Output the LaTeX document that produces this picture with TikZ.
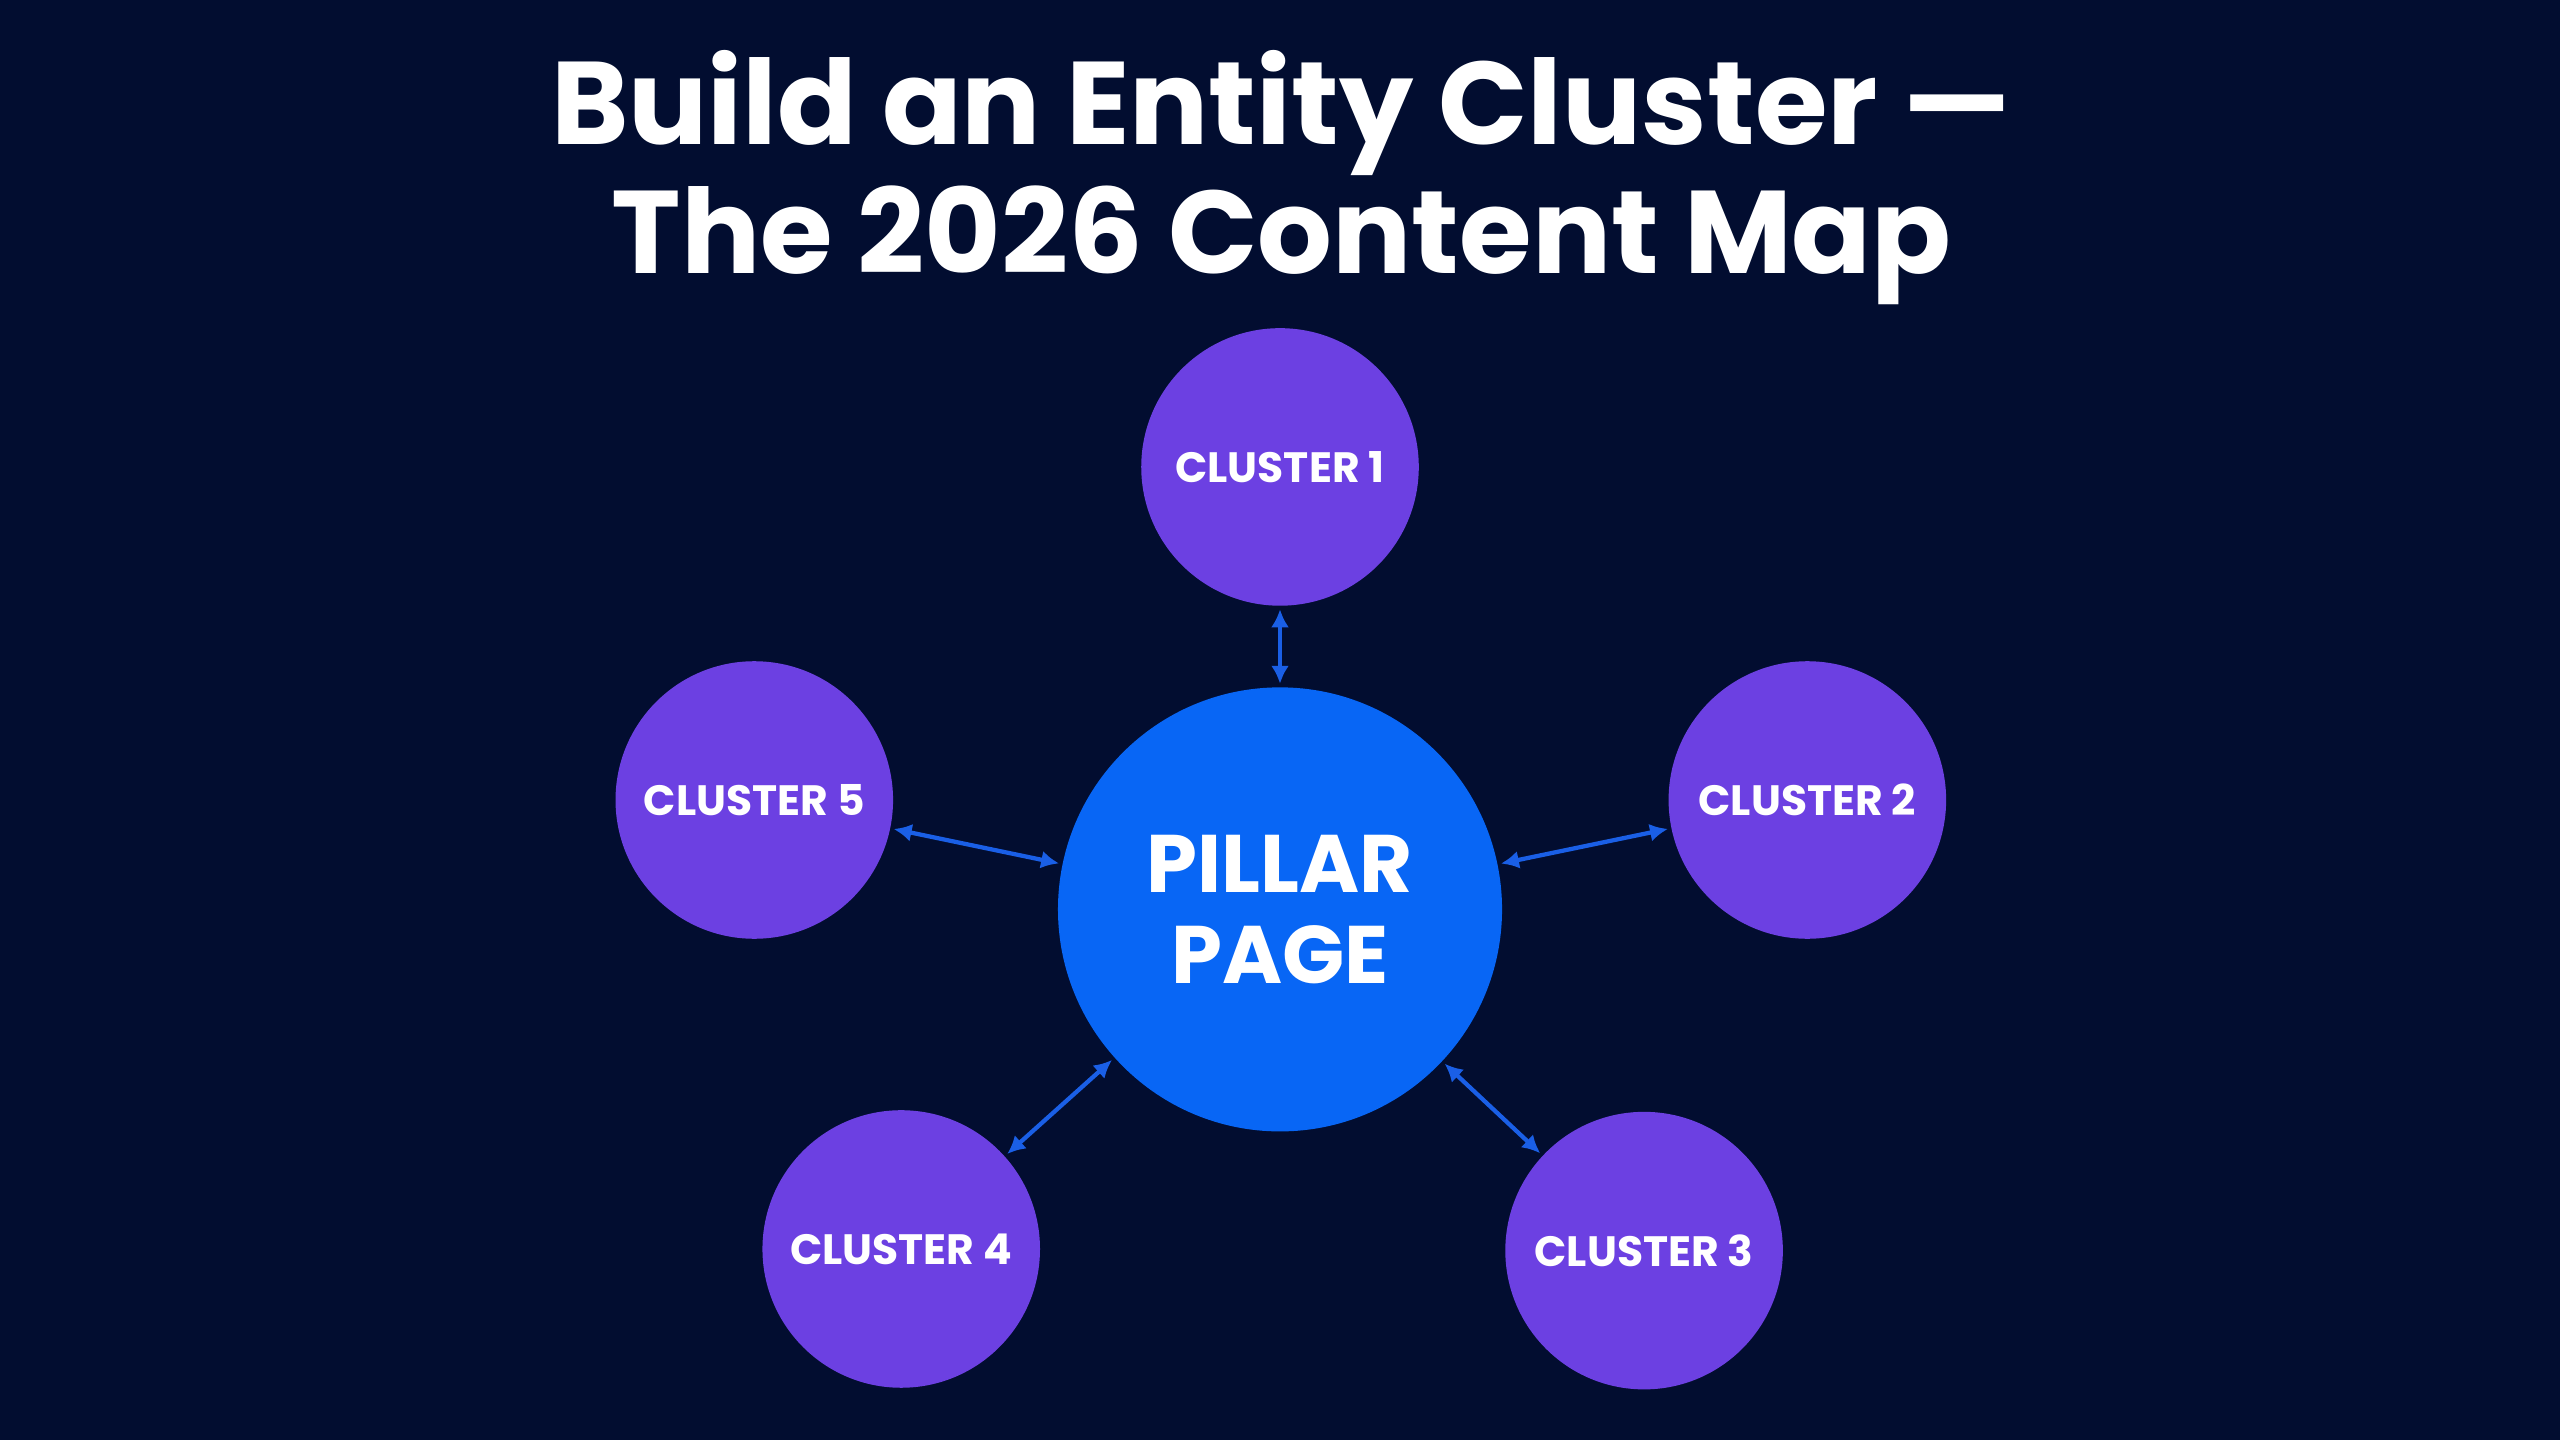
\documentclass[tikz,border=0pt]{standalone}
\usepackage{fontspec}
\setmainfont{Poppins}
\usetikzlibrary{arrows.meta}
\definecolor{bgnavy}{HTML}{020D30}
\definecolor{pillarblue}{HTML}{0866F5}
\definecolor{clusterviolet}{HTML}{6C40E2}
\definecolor{linkblue}{HTML}{1A5FE6}
\tikzset{
  pillar/.style={circle, fill=pillarblue, minimum size=272pt, inner sep=0pt,
    text=white, align=center, font=\fontsize{50}{56}\selectfont\bfseries},
  cluster/.style={circle, fill=clusterviolet, minimum size=170pt, inner sep=0pt,
    text=white, font=\fontsize{26}{30}\selectfont\bfseries},
  link/.style={linkblue, line width=2.6pt, {Latex[length=11pt,width=11pt]}-{Latex[length=11pt,width=11pt]},
    shorten <=2pt, shorten >=2pt}
}
\begin{document}
\begin{tikzpicture}[x=1pt,y=-1pt]
\fill[bgnavy] (0,0) rectangle (1568,882);
\useasboundingbox (0,0) rectangle (1568,882);

% The title
\node[text=white, align=center, font=\fontsize{72}{79}\selectfont\bfseries] (title) at (785,109)
  {Build an Entity Cluster —\\The 2026 Content Map};

% The hub and its clusters
\node[pillar] (pillar) at (784,557) {PILLAR\\PAGE};
\node[cluster] (c1) at (784,286) {CLUSTER 1};
\node[cluster] (c2) at (1107,490) {CLUSTER 2};
\node[cluster] (c3) at (1007,766) {CLUSTER 3};
\node[cluster] (c4) at (552,765) {CLUSTER 4};
\node[cluster] (c5) at (462,490) {CLUSTER 5};

% The links
\foreach \c in {c1,c2,c3,c4,c5}
  \draw[link] (\c) -- (pillar);
\end{tikzpicture}
\end{document}
